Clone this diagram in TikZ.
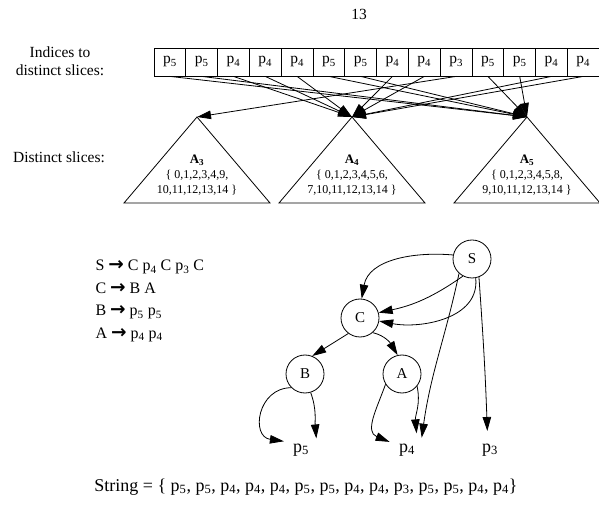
\documentclass[tikz,border=0pt]{standalone}
\usepackage{fontspec}
\setmainfont{Liberation Serif}
\newfontfamily\arrowfont{DejaVu Sans}
\usetikzlibrary{arrows.meta}

\newcommand{\gto}{{\arrowfont\bfseries\fontsize{18.5}{22.5}\selectfont →}}
\newcommand{\pp}[1]{p\textsubscript{#1}}

\begin{document}
\begin{tikzpicture}[x=1pt, y=1pt,
  every node/.style={font=\fontsize{15.5}{18}\selectfont},
  cell/.style={draw, rectangle, minimum width=31.8pt, minimum height=28pt, inner sep=0pt, line width=0.8pt},
  link/.style={-{Triangle[length=14pt,width=8.5pt]}, line width=0.8pt},
  sym/.style={draw, circle, minimum size=38pt, inner sep=0pt, line width=0.8pt, font=\fontsize{15}{18}\selectfont},
  term/.style={circle, minimum size=38pt, inner sep=0pt, font=\fontsize{18}{21}\selectfont},
  slice/.style={align=center, font=\fontsize{12}{15}\selectfont}]
    \useasboundingbox (0,0) rectangle (599,506);

    % Labels
    \node (pagenum) at (359,492) {13};
    \node[align=center] (idxlabel) at (60,445) {Indices to\\distinct slices:};
    \node (slicelabel) at (59,349) {Distinct slices:};

    % Distinct slices
    \foreach \k/\x in {3/197, 4/352, 5/527} {
        \coordinate (top\k) at (\x,389);
        \draw[line width=0.8pt] (top\k) -- ++(-73,-86) -- ++(146,0) -- cycle;
    }
    \node[slice] (a3) at (197,331) {{\fontsize{13}{15}\selectfont\bfseries A\textsubscript{3}}\\\{ 0,1,2,3,4,9,\\10,11,12,13,14 \}};
    \node[slice] (a4) at (352,331) {{\fontsize{13}{15}\selectfont\bfseries A\textsubscript{4}}\\\{ 0,1,2,3,4,5,6,\\7,10,11,12,13,14 \}};
    \node[slice] (a5) at (527,331) {{\fontsize{13}{15}\selectfont\bfseries A\textsubscript{5}}\\\{ 0,1,2,3,4,5,8,\\9,10,11,12,13,14 \}};

    % Indices
    \foreach \s [count=\i from 0] in {5,5,4,4,4,5,5,4,4,3,5,5,4,4}
        \node[cell] (c\i) at ({154+31.8*(\i+0.5)},444) {\pp{\s}};
    \foreach \s [count=\i from 0] in {5,5,4,4,4,5,5,4,4,3,5,5,4,4}
        \draw[link] (c\i.south) -- (top\s);

    % Grammar
    \node[anchor=west, align=left, font=\fontsize{16}{22.5}\selectfont] (rules) at (92,205)
        {S \gto{} C \pp{4} C \pp{3} C\\C \gto{} B A\\B \gto{} \pp{5} \pp{5}\\A \gto{} \pp{4} \pp{4}};

    % Tree
    \node[sym] (S) at (472,247) {S};
    \node[sym] (C) at (360,188) {C};
    \node[sym] (B) at (305,132) {B};
    \node[sym] (A) at (402,132) {A};
    \node[term] (t5) at (301,56) {\pp{5}};
    \node[term] (t4) at (407,56) {\pp{4}};
    \node[term] (t3) at (490,56) {\pp{3}};

    \draw[link] (S.168) to[out=175, in=80] (C.85);
    \draw[link] (S.242) to[out=215, in=12] (C.16);
    \draw[link] (S.281) to[out=276, in=-11] (C.-9);
    \draw[link] (S.228) to[out=258, in=82] (t4.40);
    \draw[link] (S.291) to[out=274, in=92] (t3.98);
    \draw[link] (C.233) -- (B.68);
    \draw[link] (C.-49) to[out=-13, in=121] (A.103);
    \draw[link] (B.225) to[out=180, in=172, looseness=1.6] (t5.153);
    \draw[link] (B.-73) to[out=-70, in=95] (t5.37);
    \draw[link] (A.212) to[out=250, in=158, looseness=1.2] (t4.155);
    \draw[link] (A.-39) to[out=-78, in=95] (t4.60);

    % String
    \node[font=\fontsize{18}{21}\selectfont] (string) at (306,19)
        {String = \{ \pp{5}, \pp{5}, \pp{4}, \pp{4}, \pp{4}, \pp{5}, \pp{5}, \pp{4}, \pp{4}, \pp{3}, \pp{5}, \pp{5}, \pp{4}, \pp{4}\}};
\end{tikzpicture}
\end{document}
